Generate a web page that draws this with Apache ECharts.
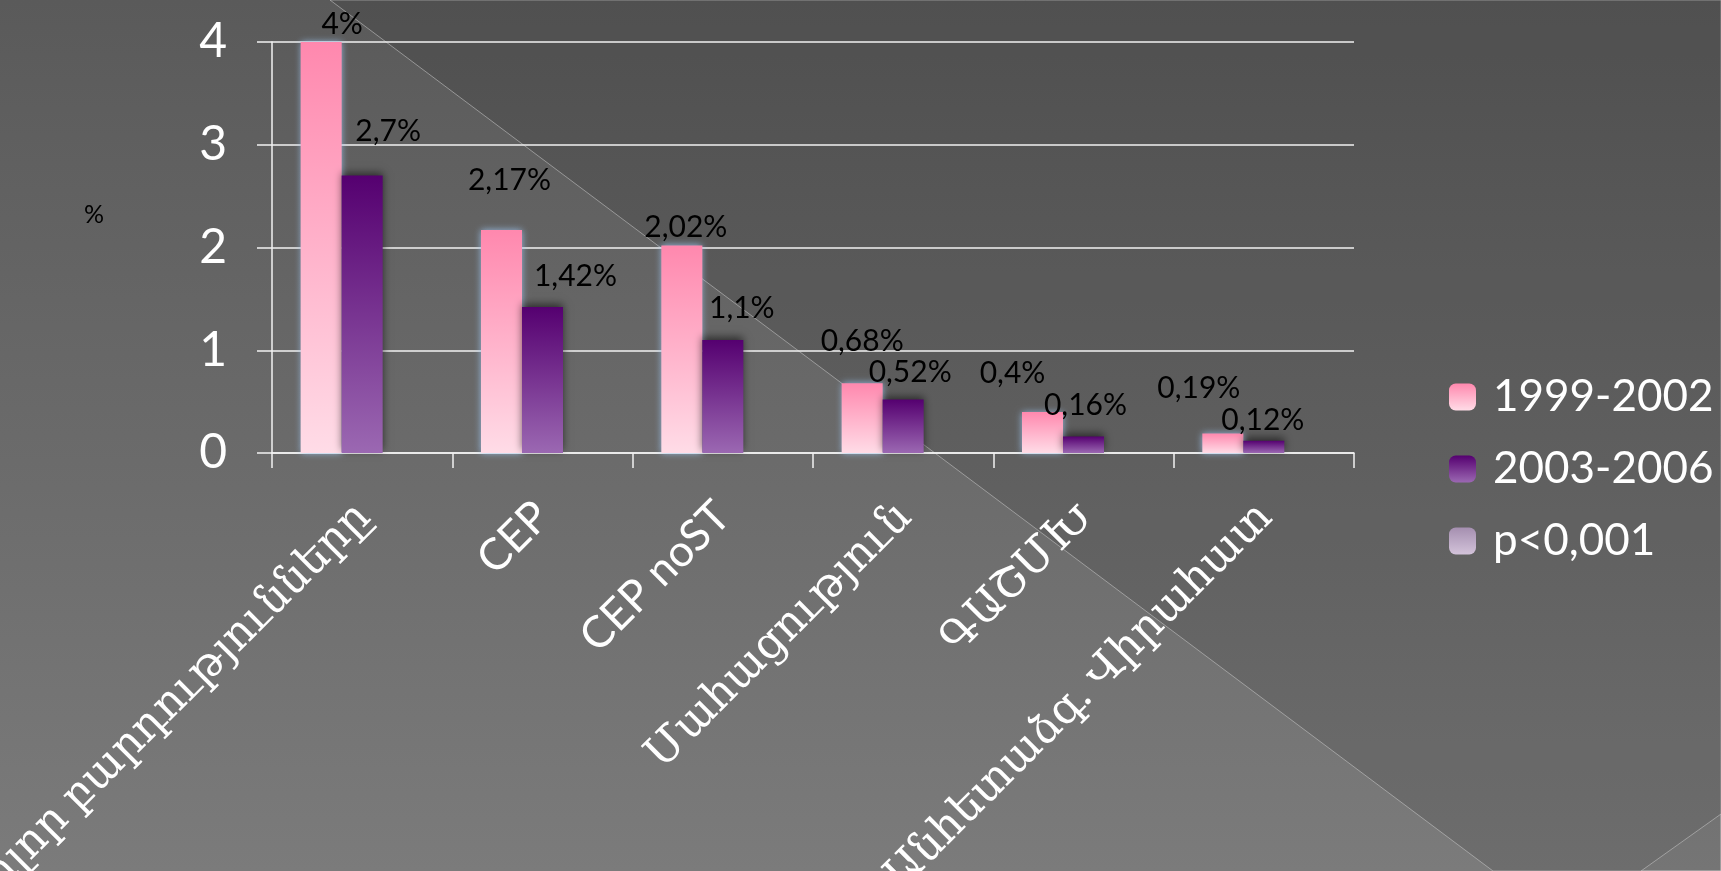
<!DOCTYPE html>
<html>
<head>
<meta charset="utf-8">
<script src="https://cdn.jsdelivr.net/npm/echarts@6/dist/echarts.min.js"></script>
<style>
  html, body { margin: 0; padding: 0; }
  body { width: 1721px; height: 871px; overflow: hidden;
         background: linear-gradient(to bottom, #5a5a5a 0%, #6a6a6a 50%, #7b7b7b 100%); }
  #chart { width: 1721px; height: 871px; }
</style>
</head>
<body>
<div id="chart"></div>
<script>
// ---- data ----
const categories = ['Բոլոր բարդությունները', 'CEP', 'CEP noST', 'Մահացություն', 'ԳԱՇՄԽ', 'Անհետաձգ. Վիրահատ'];
const seriesNames = ['1999-2002', '2003-2006', 'p<0,001'];
const values1999 = [4, 2.17, 2.02, 0.68, 0.4, 0.19];
const values2003 = [2.7, 1.42, 1.1, 0.52, 0.16, 0.12];
const valuesP = ['-', '-', '-', '-', '-', '-'];
const yTicks = [0, 1, 2, 3, 4];

// ---- label placement (style only) ----
const shiftA = [[21, 0], [8, -32], [4, 0], [0, -24], [-30, -21], [-24, -27]];
const shiftB = [[26, -26], [33, -13], [19, -14], [7, -9], [2, -13], [-1, -2]];

const fmt = p => String(p.value).replace('.', ',') + '%';
const latin = 'Lato, "DejaVu Serif", sans-serif';

const chart = echarts.init(document.getElementById('chart'), null, { renderer: 'canvas' });

const pinkGrad = new echarts.graphic.LinearGradient(0, 0, 0, 1, [
  { offset: 0, color: '#ff88ae' }, { offset: 1, color: '#ffdce7' }]);
const purpleGrad = new echarts.graphic.LinearGradient(0, 0, 0, 1, [
  { offset: 0, color: '#550070' }, { offset: 1, color: '#9b68b2' }]);
const lavGrad = new echarts.graphic.LinearGradient(0, 0, 0, 1, [
  { offset: 0, color: '#a58fb0' }, { offset: 1, color: '#d3c3da' }]);

const labelBase = { show: true, position: 'top', distance: 3, color: '#000', fontFamily: latin, fontSize: 30, formatter: fmt };

chart.setOption({
  animation: false,
  backgroundColor: 'transparent',
  graphic: {
    elements: [
      { type: 'polygon', z: -10, silent: true,
        shape: { points: [[330, 0], [1721, 0], [1721, 871], [1493, 871]] },
        style: { fill: 'rgba(0,0,0,0.11)', stroke: 'rgba(200,200,200,0.55)', lineWidth: 1 } },
      { type: 'polygon', z: -10, silent: true,
        shape: { points: [[1641, 871], [1721, 814], [1721, 871]] },
        style: { fill: 'rgba(255,255,255,0.05)', stroke: 'rgba(200,200,200,0.55)', lineWidth: 1 } },
      { type: 'text', left: 84, top: 202, z: 5,
        style: { text: '%', fill: '#000', font: '25px ' + latin } }
    ]
  },
  grid: { left: 272, top: 42, right: 367, bottom: 418, containLabel: false, outerBoundsMode: 'none' },
  legend: {
    orient: 'vertical', left: 1449, top: 375, padding: 0,
    itemWidth: 27, itemHeight: 27, itemGap: 28,
    data: seriesNames,
    textStyle: { color: '#fff', fontFamily: latin, fontSize: 44, lineHeight: 44, padding: [0, 0, 0, 12] }
  },
  xAxis: {
    type: 'category', data: categories,
    axisLine: { show: true, lineStyle: { color: '#f2f2f2', width: 1.5 } },
    axisTick: { show: true, length: 15, lineStyle: { color: '#f2f2f2', width: 1.5 } },
    axisLabel: { rotate: 45, margin: 56, color: '#fff', fontFamily: latin, fontSize: 44, interval: 0 }
  },
  yAxis: {
    type: 'value', min: yTicks[0], max: yTicks[yTicks.length - 1], interval: yTicks[1] - yTicks[0],
    axisLine: { show: true, lineStyle: { color: '#f2f2f2', width: 1.5 } },
    axisTick: { show: true, length: 15, lineStyle: { color: '#f2f2f2', width: 1.5 } },
    splitLine: { show: true, lineStyle: { color: '#f2f2f2', width: 1.5 } },
    axisLabel: { margin: 45, color: '#fff', fontFamily: latin, fontSize: 48 }
  },
  series: [
    { name: seriesNames[0], type: 'bar', barWidth: 41, barGap: '0%',
      itemStyle: { color: pinkGrad, shadowColor: 'rgba(160,200,245,0.85)', shadowBlur: 7 },
      label: labelBase,
      data: values1999.map((v, i) => ({ value: v, label: { offset: shiftA[i] } })) },
    { name: seriesNames[1], type: 'bar', barWidth: 41, barGap: '0%',
      itemStyle: { color: purpleGrad, shadowColor: 'rgba(0,0,0,0.55)', shadowBlur: 8, shadowOffsetY: -3 },
      label: labelBase,
      data: values2003.map((v, i) => ({ value: v, label: { offset: shiftB[i] } })) },
    { name: seriesNames[2], type: 'bar', barWidth: 41, barGap: '0%',
      itemStyle: { color: lavGrad, borderRadius: 3 },
      data: valuesP }
  ]
});
</script>
</body>
</html>
